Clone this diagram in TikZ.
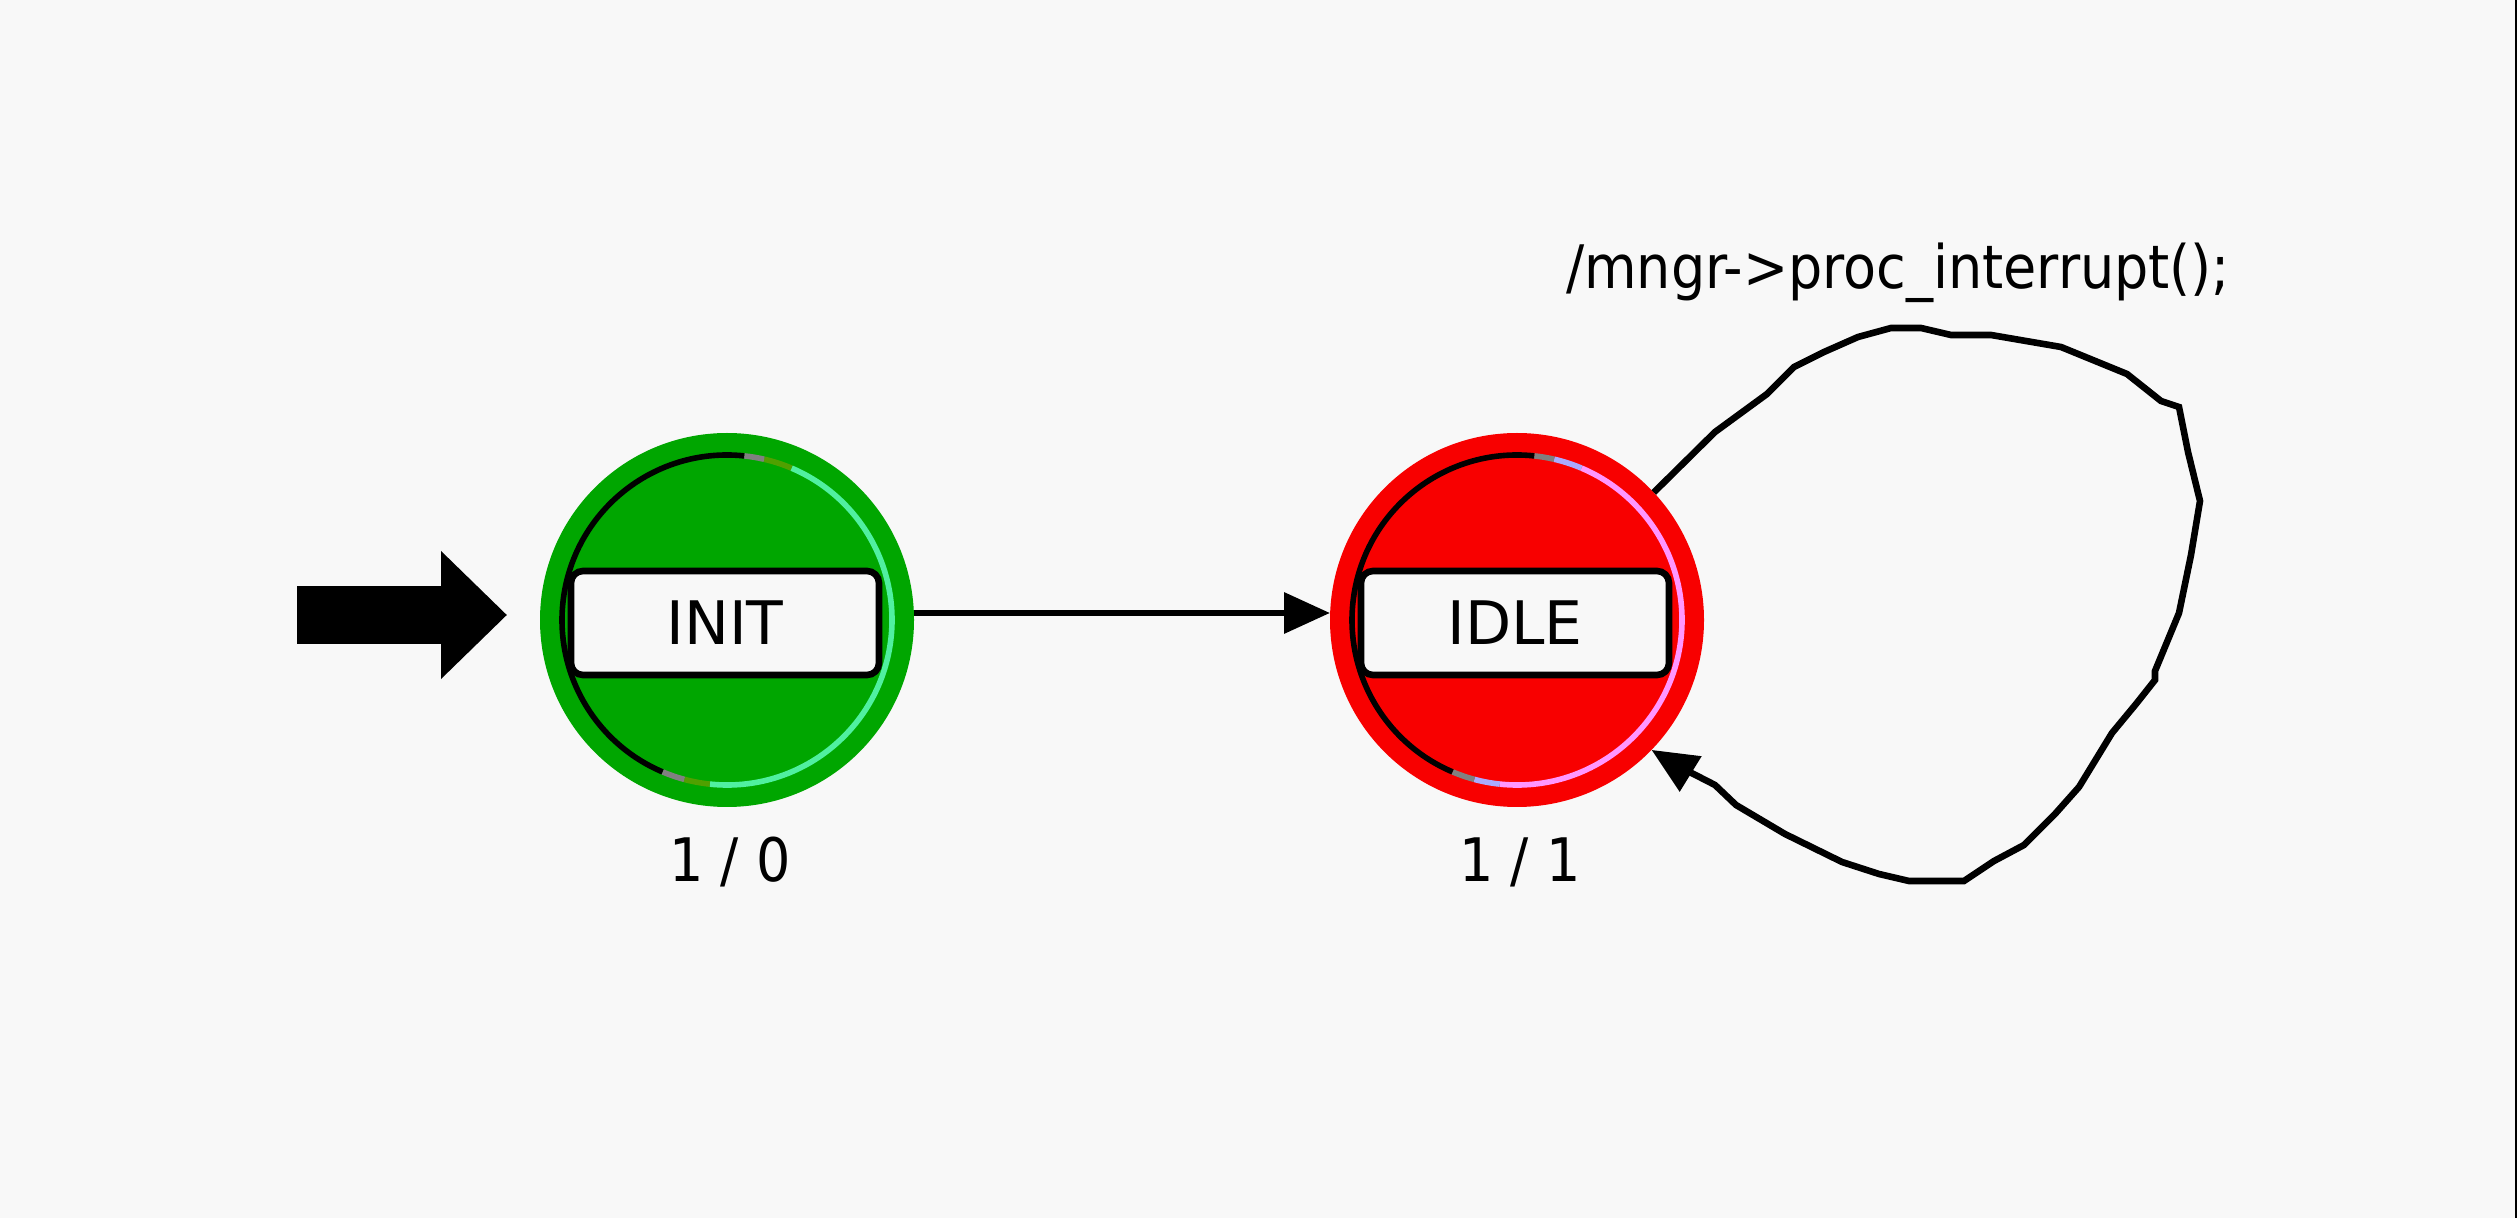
\documentclass[tikz,border=0pt]{standalone}
\usepackage{fontspec}
\setmainfont{DejaVu Sans Condensed}
\newfontfamily\namefont{DejaVu Sans}
\usepackage{xcolor}
\usepackage{tikz}
\usetikzlibrary{arrows.meta}
\definecolor{bgcol}{RGB}{248,248,248}
\definecolor{initgreen}{RGB}{0,166,0}
\definecolor{idlered}{RGB}{248,0,0}
\definecolor{greenlight}{RGB}{80,240,160}
\definecolor{greentint}{RGB}{80,160,0}
\definecolor{redlight}{RGB}{255,150,255}
\definecolor{redtint}{RGB}{170,170,255}
\newcommand{\statering}[4]{%
	\draw[ringline, #4] ([shift={(-96:82.5pt)}]#1.center) arc[start angle=-96, end angle=67, radius=82.5pt];
	\draw[ringline, #3] ([shift={(67:82.5pt)}]#1.center) arc[start angle=67, end angle=77, radius=82.5pt];
	\draw[ringline, #3] ([shift={(255:82.5pt)}]#1.center) arc[start angle=255, end angle=264, radius=82.5pt];
	\draw[ringline, #2] ([shift={(77:82.5pt)}]#1.center) arc[start angle=77, end angle=84, radius=82.5pt];
	\draw[ringline, #2] ([shift={(247:82.5pt)}]#1.center) arc[start angle=247, end angle=255, radius=82.5pt];
	\draw[ringline, black] ([shift={(84:82.5pt)}]#1.center) arc[start angle=84, end angle=247, radius=82.5pt];
}

\begin{document}
\begin{tikzpicture}[x=0.5pt, y=-0.5pt, font=\fontsize{30}{36}\selectfont,
	statedisc/.style={circle, minimum size=187pt, inner sep=0pt, outer sep=0pt},
	ringline/.style={line width=2.8pt},
	namebox/.style={rectangle, rounded corners=6pt, minimum width=154pt, minimum height=52pt, inner sep=0pt, line width=3.3pt, draw=black, fill=bgcol, font=\fontsize{30}{36}\namefont},
	edgeline/.style={line width=3.3pt, -{Triangle[length=23pt, width=20pt]}}]
	\useasboundingbox (0,0) rectangle (2517,1218);
	\fill[bgcol] (0,0) rectangle (2517,1218);
	\fill[black] (2515,0) rectangle (2517,1218);
	\node[statedisc, fill=initgreen] at (727,620)(init){};
	\node[statedisc, fill=idlered] at (1517,620)(idle){};
	\begin{scope}[x=1pt, y=1pt]
		\statering{init}{gray}{greentint}{greenlight}
		\statering{idle}{gray}{redtint}{redlight}
	\end{scope}
	\node[namebox] at (725,623)(initname){INIT};
	\node[namebox] at (1515,623)(idlename){IDLE};
	\node[anchor=base] at (730,882)(initcount){1 / 0};
	\node[anchor=base] at (1520,881)(idlecount){1 / 1};
	\node[anchor=base west] at (1559,289)(looplabel){/mngr->proc\_interrupt();};
	\coordinate (entry) at (297,615);
	\draw[line width=29pt, -{Triangle[length=33pt, width=62pt]}, shorten >=16.5pt] (entry) -- (entry -| init.west);
	\draw[edgeline] ([yshift=3.5pt]init.east) -- ([yshift=3.5pt]idle.west);
	\draw[edgeline] (idle.43) -- (1715,432) -- (1767,394) -- (1794,367) -- (1824,352) -- (1858,337) -- (1891,328) -- (1921,328) -- (1951,335) -- (1991,335) -- (2061,347) -- (2127,374) -- (2161,401) -- (2179,407) -- (2188,452) -- (2200,501) -- (2191,555) -- (2179,613) -- (2155,671) -- (2155,680) -- (2136,704) -- (2112,733) -- (2079,787) -- (2055,814) -- (2024,845) -- (1994,861) -- (1964,881) -- (1909,881) -- (1879,874) -- (1842,862) -- (1785,834) -- (1736,805) -- (1715,785) -- (1676,765) -- (idle.-44);
\end{tikzpicture}
\end{document}
